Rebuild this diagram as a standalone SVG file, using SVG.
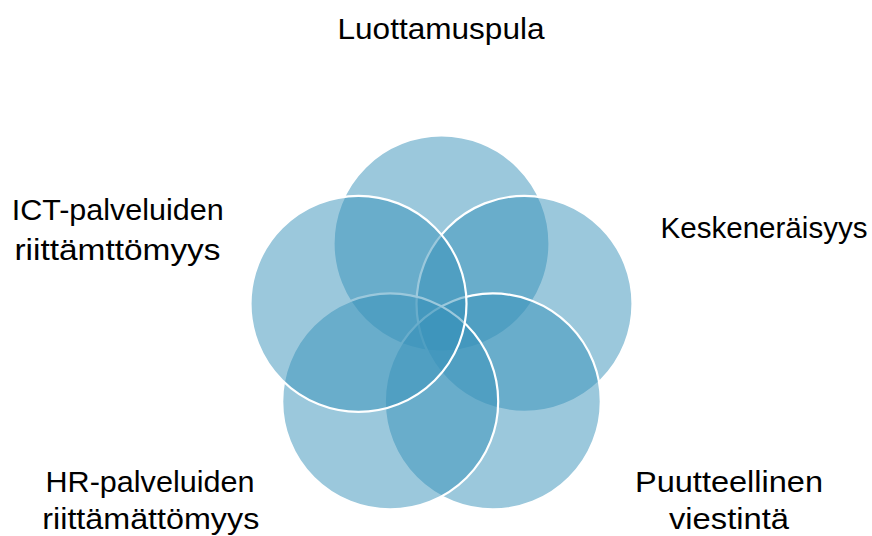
<svg xmlns="http://www.w3.org/2000/svg" width="872" height="536" viewBox="0 0 872 536">
<style>
.c{fill:rgba(55,145,185,0.5);stroke:#fff;stroke-width:2.2}
.t{font-family:"Liberation Sans",Arial,sans-serif;font-size:29px;fill:#000;text-anchor:middle}
</style>
<rect width="872" height="536" fill="#fff"/>
<g id="connectors"></g>
<g id="node-luottamuspula"><circle class="c" cx="441.5" cy="243.5" r="108"/></g>
<g id="node-keskeneraisyys"><circle class="c" cx="524.5" cy="303.8" r="108"/></g>
<g id="node-puutteellinen"><circle class="c" cx="492.8" cy="401.4" r="108"/></g>
<g id="node-hr"><circle class="c" cx="390.2" cy="401.4" r="108"/></g>
<g id="node-ict"><circle class="c" cx="358.5" cy="303.8" r="108"/></g>
<g id="labels">
<text class="t" x="441" y="38.5" textLength="207" lengthAdjust="spacingAndGlyphs">Luottamuspula</text>
<text class="t" x="117.7" y="219.5" textLength="212" lengthAdjust="spacingAndGlyphs">ICT-palveluiden</text>
<text class="t" x="117.5" y="260" textLength="206" lengthAdjust="spacingAndGlyphs">riittämttömyys</text>
<text class="t" x="764" y="237.5" textLength="207" lengthAdjust="spacingAndGlyphs">Keskeneräisyys</text>
<text class="t" x="150" y="491.5" textLength="209" lengthAdjust="spacingAndGlyphs">HR-palveluiden</text>
<text class="t" x="150.8" y="529" textLength="217" lengthAdjust="spacingAndGlyphs">riittämättömyys</text>
<text class="t" x="729" y="491.5" textLength="188" lengthAdjust="spacingAndGlyphs">Puutteellinen</text>
<text class="t" x="729" y="529" textLength="120" lengthAdjust="spacingAndGlyphs">viestintä</text>
</g>
</svg>
